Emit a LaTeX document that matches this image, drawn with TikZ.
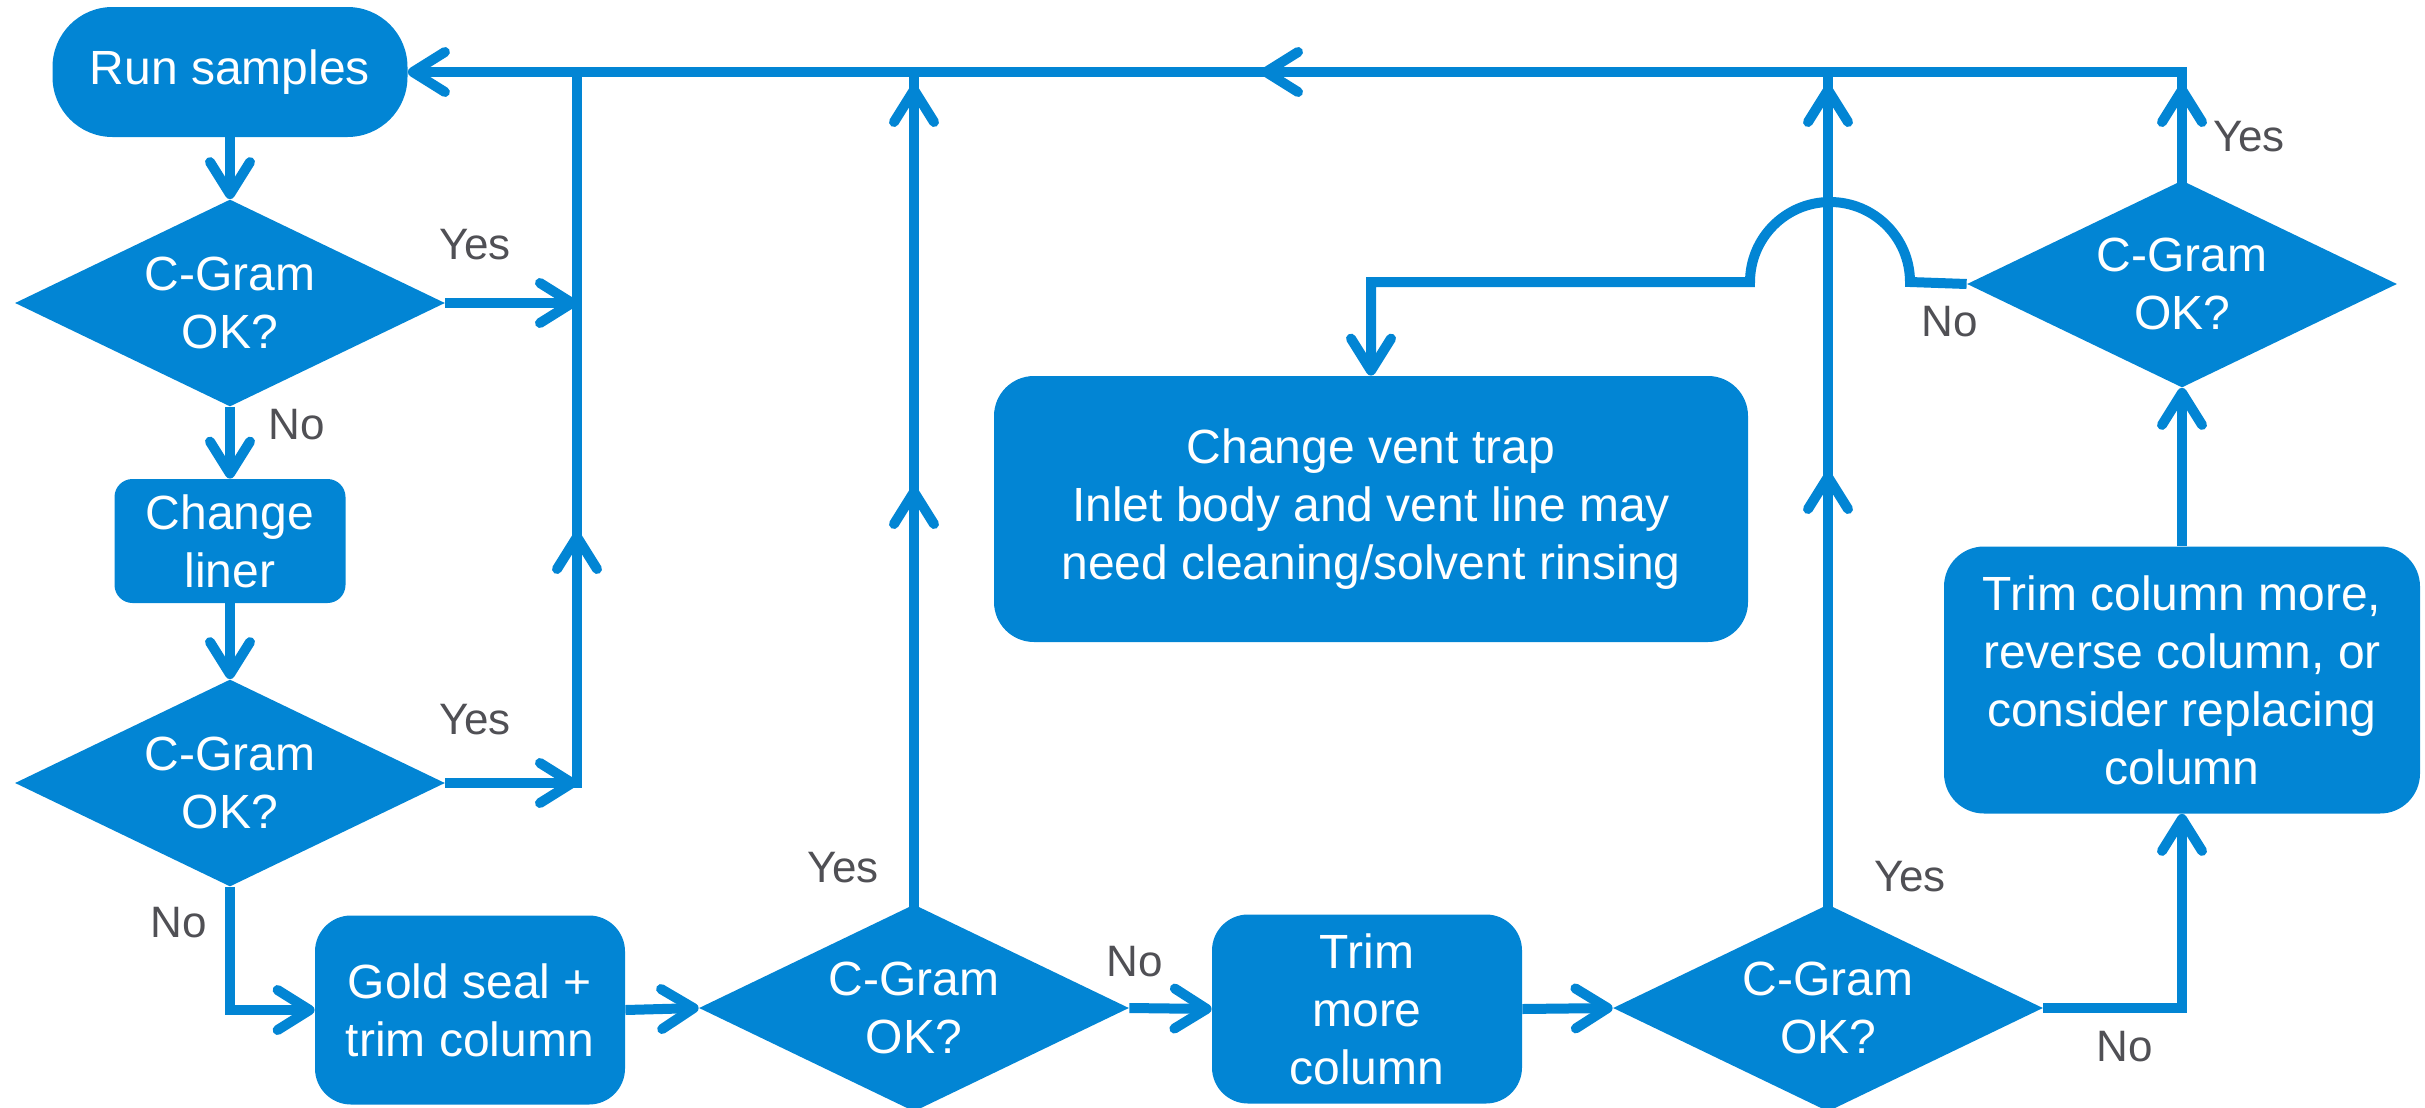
\documentclass[tikz,border=0pt]{standalone}
\usepackage{fontspec}
\setmainfont{Liberation Sans}
\usetikzlibrary{shapes.geometric,arrows.meta}
\definecolor{myblue}{RGB}{2,133,212}
\definecolor{lblgray}{RGB}{80,80,85}
\begin{document}
\begin{tikzpicture}[x=0.5pt,y=-0.5pt,
  line/.style={draw=myblue,line width=5pt,line join=miter},
  arr/.style={line,-{Straight Barb[length=16pt,width=20pt,round]}},
  box/.style={fill=myblue,text=white,align=center,inner sep=0pt,font=\fontsize{24}{29}\selectfont},
  dia/.style={box,shape=diamond,minimum width=215pt,minimum height=103.5pt,aspect=2.08},
  lbl/.style={text=lblgray,font=\fontsize{22}{26}\selectfont,inner sep=0pt}]
\useasboundingbox (0,0) rectangle (2425,1108);

% nodes
\node[box,rounded corners=30pt,minimum width=177.5pt,minimum height=65pt] (run) at (230,72) {Run samples};
\node[dia] (d1) at (230,303) {C-Gram\\OK?};
\node[box,rounded corners=9pt,minimum width=115.5pt,minimum height=62pt] (cl) at (230,541) {Change\\liner};
\node[dia] (d2) at (230,783) {C-Gram\\OK?};
\node[box,rounded corners=18pt,minimum width=155pt,minimum height=94.5pt] (gs) at (470,1010) {Gold seal +\\trim column};
\node[dia] (d3) at (914,1008) {C-Gram\\OK?};
\node[box,rounded corners=18pt,minimum width=155pt,minimum height=94.5pt] (tm) at (1367,1009) {Trim\\more\\column};
\node[dia] (d4) at (1828,1008) {C-Gram\\OK?};
\node[box,rounded corners=20pt,minimum width=238pt,minimum height=133.5pt] (tc) at (2182,680) {Trim column more,\\reverse column, or\\consider replacing\\column};
\node[dia] (d5) at (2182,284) {C-Gram\\OK?};
\node[box,rounded corners=20pt,minimum width=377pt,minimum height=133pt] (cv) at (1371,509) {Change vent trap\\Inlet body and vent line may\\need cleaning/solvent rinsing};

% junction coordinates
\coordinate (t1) at (577,72);
\coordinate (t3) at (914,72);
\coordinate (t4) at (1828,72);
\coordinate (t5) at (2182,72);
\coordinate (j1) at (577,303);
\coordinate (j2) at (577,783);
\coordinate (m1) at (577,532);
\coordinate (m3) at (914,487);
\coordinate (a3) at (914,85);
\coordinate (m4) at (1828,472);
\coordinate (a4) at (1828,85);
\coordinate (a5) at (2182,85);
\coordinate (mt) at (1261,72);
\coordinate (h0) at (1910,282);

% connectors
\draw[arr] (run.south) -- (d1.north);
\draw[arr] (d1.south) -- (cl.north);
\draw[arr] (cl.south) -- (d2.north);
\draw[arr] (d1.east) -- (j1);
\draw[arr] (d2.east) -- (j2);
\draw[line,line cap=rect] (j2) -- (t1);
\draw[arr] (j2) -- (m1);
\draw[arr] (t5) -- (run.east);
\draw[arr] (t5) -- (mt);
\draw[arr] (d2.south) |- (gs.west);
\draw[arr] (gs.east) -- (d3.west);
\draw[line,line cap=rect] (d3.north) -- (t3);
\draw[arr] (d3.north) -- (m3);
\draw[arr] (d3.north) -- (a3);
\draw[arr] (d3.east) -- (tm.west);
\draw[arr] (tm.east) -- (d4.west);
\draw[line,line cap=rect] (d4.north) -- (t4);
\draw[arr] (d4.north) -- (m4);
\draw[arr] (d4.north) -- (a4);
\draw[arr] (d4.east) -| (tc.south);
\draw[arr] (tc.north) -- (d5.south);
\draw[line,line cap=rect] (d5.north) -- (t5);
\draw[arr] (d5.north) -- (a5);
\draw[arr] (d5.west) -- (h0) arc[start angle=0,end angle=180,radius=40pt] -| (cv.north);

% labels
\node[lbl] (y1) at (475,245) {Yes};
\node[lbl] (n1) at (297,425) {No};
\node[lbl] (y2) at (475,720) {Yes};
\node[lbl] (n2) at (179,923) {No};
\node[lbl] (y3) at (843,868) {Yes};
\node[lbl] (n3) at (1135,962) {No};
\node[lbl] (y4) at (1910,877) {Yes};
\node[lbl] (n4) at (2125,1047) {No};
\node[lbl] (y5) at (2249,137) {Yes};
\node[lbl] (n5) at (1950,322) {No};
\end{tikzpicture}
\end{document}
